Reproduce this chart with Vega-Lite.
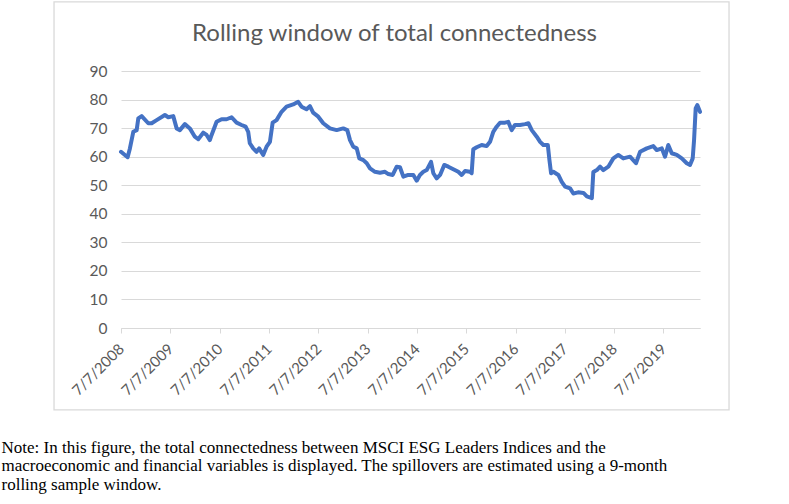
{
  "$schema": "https://vega.github.io/schema/vega-lite/v6.json",
  "width": 579,
  "height": 257,
  "autosize": {"type": "none"},
  "padding": {"left": 121, "top": 71, "right": 89, "bottom": 176},
  "background": "white",
  "config": {"view": {"stroke": null}},
  "title": {
    "text": "Rolling window of total connectedness",
    "font": "Lato",
    "fontSize": 24,
    "fontWeight": "normal",
    "color": "#595959",
    "anchor": "middle",
    "frame": "group",
    "dx": -16,
    "offset": -64,
    "baseline": "alphabetic"
  },
  "resolve": {"axis": {"x": "independent", "y": "independent"}},
  "data": {
    "values": [
      {"date": "2008-07-07", "value": 61.7},
      {"date": "2008-08-25", "value": 59.8},
      {"date": "2008-09-11", "value": 62.9},
      {"date": "2008-10-06", "value": 68.7},
      {"date": "2008-10-31", "value": 69.3},
      {"date": "2008-11-12", "value": 73.4},
      {"date": "2008-12-07", "value": 74.2},
      {"date": "2009-01-25", "value": 71.7},
      {"date": "2009-02-19", "value": 71.7},
      {"date": "2009-03-28", "value": 72.8},
      {"date": "2009-05-28", "value": 74.6},
      {"date": "2009-06-22", "value": 73.8},
      {"date": "2009-07-29", "value": 74.2},
      {"date": "2009-08-23", "value": 69.9},
      {"date": "2009-09-16", "value": 69.3},
      {"date": "2009-10-23", "value": 71.4},
      {"date": "2009-11-29", "value": 69.9},
      {"date": "2010-01-05", "value": 67.0},
      {"date": "2010-01-30", "value": 66.1},
      {"date": "2010-03-08", "value": 68.4},
      {"date": "2010-04-02", "value": 67.6},
      {"date": "2010-04-26", "value": 65.8},
      {"date": "2010-05-09", "value": 67.6},
      {"date": "2010-06-15", "value": 72.2},
      {"date": "2010-07-22", "value": 73.1},
      {"date": "2010-08-28", "value": 73.1},
      {"date": "2010-10-04", "value": 73.8},
      {"date": "2010-11-10", "value": 71.9},
      {"date": "2010-12-17", "value": 71.1},
      {"date": "2011-01-16", "value": 70.5},
      {"date": "2011-02-04", "value": 68.7},
      {"date": "2011-02-16", "value": 64.7},
      {"date": "2011-03-13", "value": 62.9},
      {"date": "2011-04-07", "value": 61.7},
      {"date": "2011-04-26", "value": 62.9},
      {"date": "2011-05-26", "value": 60.6},
      {"date": "2011-06-20", "value": 63.5},
      {"date": "2011-07-15", "value": 65.2},
      {"date": "2011-08-04", "value": 71.9},
      {"date": "2011-09-02", "value": 72.8},
      {"date": "2011-10-09", "value": 75.7},
      {"date": "2011-11-15", "value": 77.5},
      {"date": "2012-01-03", "value": 78.3},
      {"date": "2012-02-09", "value": 79.2},
      {"date": "2012-03-05", "value": 77.5},
      {"date": "2012-04-11", "value": 76.6},
      {"date": "2012-05-06", "value": 77.7},
      {"date": "2012-05-30", "value": 75.4},
      {"date": "2012-07-07", "value": 74.0},
      {"date": "2012-08-13", "value": 71.7},
      {"date": "2012-10-01", "value": 69.9},
      {"date": "2012-11-20", "value": 69.3},
      {"date": "2013-01-08", "value": 69.9},
      {"date": "2013-02-07", "value": 69.3},
      {"date": "2013-02-27", "value": 65.8},
      {"date": "2013-03-23", "value": 63.5},
      {"date": "2013-04-18", "value": 62.9},
      {"date": "2013-05-07", "value": 59.4},
      {"date": "2013-06-06", "value": 58.8},
      {"date": "2013-07-01", "value": 57.7},
      {"date": "2013-07-25", "value": 55.9},
      {"date": "2013-08-31", "value": 54.7},
      {"date": "2013-10-07", "value": 54.4},
      {"date": "2013-11-13", "value": 54.7},
      {"date": "2013-12-08", "value": 53.9},
      {"date": "2014-01-09", "value": 53.6},
      {"date": "2014-02-08", "value": 56.5},
      {"date": "2014-03-04", "value": 56.3},
      {"date": "2014-03-29", "value": 53.0},
      {"date": "2014-05-04", "value": 53.6},
      {"date": "2014-06-11", "value": 53.6},
      {"date": "2014-07-06", "value": 51.6},
      {"date": "2014-07-30", "value": 53.6},
      {"date": "2014-08-24", "value": 54.7},
      {"date": "2014-09-18", "value": 55.3},
      {"date": "2014-10-20", "value": 58.2},
      {"date": "2014-11-06", "value": 54.2},
      {"date": "2014-12-01", "value": 52.4},
      {"date": "2014-12-26", "value": 53.6},
      {"date": "2015-01-26", "value": 57.1},
      {"date": "2015-02-25", "value": 56.5},
      {"date": "2015-04-03", "value": 55.6},
      {"date": "2015-05-10", "value": 54.7},
      {"date": "2015-06-04", "value": 53.6},
      {"date": "2015-06-29", "value": 55.0},
      {"date": "2015-08-04", "value": 54.7},
      {"date": "2015-08-17", "value": 54.2},
      {"date": "2015-08-29", "value": 62.6},
      {"date": "2015-09-23", "value": 63.3},
      {"date": "2015-10-30", "value": 64.1},
      {"date": "2015-12-06", "value": 63.7},
      {"date": "2015-12-31", "value": 65.2},
      {"date": "2016-01-24", "value": 68.7},
      {"date": "2016-02-18", "value": 70.5},
      {"date": "2016-03-14", "value": 71.9},
      {"date": "2016-04-20", "value": 71.9},
      {"date": "2016-05-14", "value": 72.2},
      {"date": "2016-06-08", "value": 69.3},
      {"date": "2016-07-03", "value": 71.1},
      {"date": "2016-08-09", "value": 71.1},
      {"date": "2016-09-15", "value": 71.4},
      {"date": "2016-10-10", "value": 71.7},
      {"date": "2016-11-04", "value": 69.3},
      {"date": "2016-12-11", "value": 67.0},
      {"date": "2017-01-05", "value": 65.2},
      {"date": "2017-01-29", "value": 64.1},
      {"date": "2017-03-03", "value": 64.1},
      {"date": "2017-03-15", "value": 58.8},
      {"date": "2017-03-27", "value": 54.2},
      {"date": "2017-04-13", "value": 54.7},
      {"date": "2017-05-20", "value": 53.6},
      {"date": "2017-06-14", "value": 51.2},
      {"date": "2017-07-09", "value": 49.5},
      {"date": "2017-08-15", "value": 48.9},
      {"date": "2017-09-08", "value": 47.1},
      {"date": "2017-10-13", "value": 47.5},
      {"date": "2017-11-22", "value": 47.3},
      {"date": "2017-12-17", "value": 46.1},
      {"date": "2018-01-23", "value": 45.5},
      {"date": "2018-02-03", "value": 54.6},
      {"date": "2018-03-01", "value": 55.3},
      {"date": "2018-03-25", "value": 56.5},
      {"date": "2018-04-18", "value": 55.3},
      {"date": "2018-05-25", "value": 56.5},
      {"date": "2018-07-01", "value": 59.4},
      {"date": "2018-08-07", "value": 60.6},
      {"date": "2018-09-13", "value": 59.4},
      {"date": "2018-11-02", "value": 60.0},
      {"date": "2018-12-16", "value": 57.7},
      {"date": "2019-01-15", "value": 61.7},
      {"date": "2019-03-06", "value": 62.9},
      {"date": "2019-04-23", "value": 63.7},
      {"date": "2019-05-19", "value": 62.3},
      {"date": "2019-06-25", "value": 62.9},
      {"date": "2019-07-19", "value": 60.0},
      {"date": "2019-08-12", "value": 64.1},
      {"date": "2019-09-07", "value": 61.2},
      {"date": "2019-10-14", "value": 60.6},
      {"date": "2019-11-20", "value": 59.4},
      {"date": "2019-12-27", "value": 57.7},
      {"date": "2020-01-20", "value": 57.1},
      {"date": "2020-02-09", "value": 59.4},
      {"date": "2020-02-19", "value": 65.8},
      {"date": "2020-03-02", "value": 76.9},
      {"date": "2020-03-14", "value": 78.1},
      {"date": "2020-04-03", "value": 75.7}
    ]
  },
  "layer": [
    {
      "mark": {"type": "line", "color": "#4472C4", "strokeWidth": 4, "strokeJoin": "round", "strokeCap": "round"},
      "encoding": {
        "x": {
          "field": "date",
          "type": "temporal",
          "scale": {
            "type": "utc",
            "domain": [
              {"year": 2008, "month": 7, "date": 7, "utc": true},
              {"year": 2020, "month": 4, "date": 3, "utc": true}
            ],
            "nice": false
          },
          "axis": {
            "values": [
              {"year": 2008, "month": 7, "date": 7, "utc": true},
              {"year": 2009, "month": 7, "date": 7, "utc": true},
              {"year": 2010, "month": 7, "date": 7, "utc": true},
              {"year": 2011, "month": 7, "date": 7, "utc": true},
              {"year": 2012, "month": 7, "date": 7, "utc": true},
              {"year": 2013, "month": 7, "date": 7, "utc": true},
              {"year": 2014, "month": 7, "date": 7, "utc": true},
              {"year": 2015, "month": 7, "date": 7, "utc": true},
              {"year": 2016, "month": 7, "date": 7, "utc": true},
              {"year": 2017, "month": 7, "date": 7, "utc": true},
              {"year": 2018, "month": 7, "date": 7, "utc": true},
              {"year": 2019, "month": 7, "date": 7, "utc": true}
            ],
            "labelExpr": "utcFormat(datum.value, '%-m/%-d/%Y')",
            "grid": false,
            "domainColor": "#d9d9d9",
            "domainWidth": 1,
            "tickColor": "#d9d9d9",
            "tickSize": 5,
            "labelAngle": -45,
            "labelAlign": "right",
            "labelBaseline": "middle",
            "labelPadding": 13,
            "labelFlush": false,
            "labelOverlap": false,
            "labelBound": false,
            "labelFont": "Lato",
            "labelFontSize": 15,
            "labelColor": "#595959",
            "title": [
              "Note: In this figure, the total connectedness between MSCI ESG Leaders Indices and the",
              "macroeconomic and financial variables is displayed. The spillovers are estimated using a 9-month",
              "rolling sample window."
            ],
            "titleFont": "Liberation Serif",
            "titleFontSize": 17,
            "titleFontWeight": "normal",
            "titleColor": "#000000",
            "titleAlign": "left",
            "titleBaseline": "alphabetic",
            "titleLineHeight": 18.5,
            "titleX": -120,
            "titleY": 124
          }
        },
        "y": {
          "field": "value",
          "type": "quantitative",
          "scale": {"domain": [0, 90], "nice": false, "zero": true},
          "axis": {
            "values": [0, 10, 20, 30, 40, 50, 60, 70, 80, 90],
            "title": null,
            "grid": true,
            "gridColor": "#d9d9d9",
            "gridWidth": 1,
            "domain": false,
            "ticks": false,
            "tickSize": 0,
            "labelPadding": 14,
            "labelFont": "Lato",
            "labelFontSize": 15.5,
            "labelColor": "#595959"
          }
        }
      }
    },
    {
      "data": {"values": [{}]},
      "mark": {"type": "rect", "fill": null, "stroke": "#d9d9d9", "strokeWidth": 1.3, "clip": false},
      "encoding": {
        "x": {"datum": {"year": 2007, "month": 2, "date": 27, "utc": true}, "type": "temporal", "axis": null},
        "x2": {"datum": {"year": 2020, "month": 11, "date": 4, "utc": true}},
        "y": {"datum": 114.2, "type": "quantitative", "axis": null},
        "y2": {"datum": -28.7}
      }
    }
  ]
}
